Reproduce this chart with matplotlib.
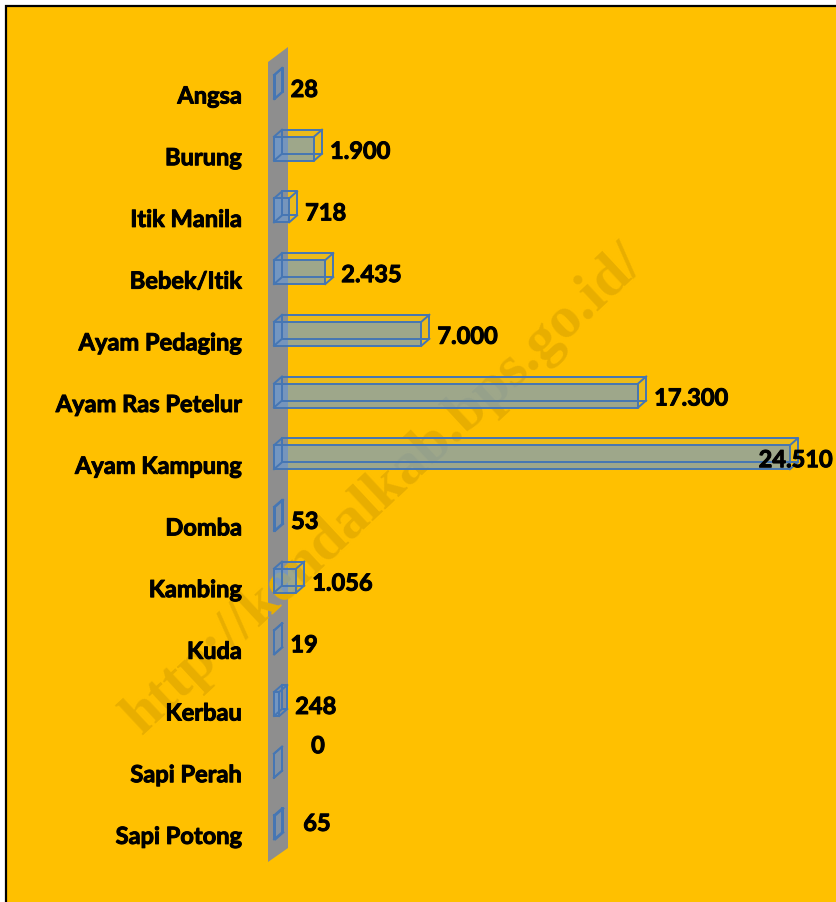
import matplotlib
matplotlib.use("Agg")
import matplotlib.pyplot as plt
from matplotlib.patches import Polygon, Rectangle
from matplotlib import font_manager
import matplotlib.patheffects as pe

# ---------------- data ----------------
categories = ["Angsa", "Burung", "Itik Manila", "Bebek/Itik", "Ayam Pedaging",
              "Ayam Ras Petelur", "Ayam Kampung", "Domba", "Kambing", "Kuda",
              "Kerbau", "Sapi Perah", "Sapi Potong"]
values = [28, 1900, 718, 2435, 7000, 17300, 24510, 53, 1056, 19, 248, 0, 65]
watermark = "http://kendalkab.bps.go.id/"

# ---------------- layout ----------------
W, H = 837, 903
DPI = 100
x0_px = 274          # pixel of value 0
px_per_unit = 0.02105
row0_px = 88         # center of first row (from top)
row_px = 61.7
bar_h_px = 24
depth_dx_px, depth_dy_px = 8, 7

def fam():
    names = {f.name for f in font_manager.fontManager.ttflist}
    for n in ["Lato", "Liberation Sans Narrow", "DejaVu Sans"]:
        if n in names:
            return n
    return "DejaVu Sans"
FONT = fam()
WEIGHT = "bold"
THICK = [pe.withStroke(linewidth=0.7, foreground="black")]

fig = plt.figure(figsize=(W / DPI, H / DPI), dpi=DPI)
fig.patch.set_facecolor("white")
fig.add_artist(Rectangle((6 / W, -0.05), 1.1, 1.05 - 7 / H, transform=fig.transFigure,
                         facecolor="#FFC000", edgecolor="black", linewidth=1.6, zorder=0))

ax = fig.add_axes([0, 0, 1, 1])
ax.set_facecolor("none")
ax.axis("off")
ax.set_xlim(-x0_px / px_per_unit, (W - x0_px) / px_per_unit)
ax.set_ylim((H - row0_px) / row_px, -row0_px / row_px)

def px2x(px):
    return (px - x0_px) / px_per_unit

def py2y(py):
    return (py - row0_px) / row_px

# gray wall
wall = Polygon([(px2x(268), py2y(63)), (px2x(288), py2y(48)),
                (px2x(288), py2y(849)), (px2x(268), py2y(863))],
               closed=True, facecolor="#8E8E8E", edgecolor="none", zorder=1)
ax.add_patch(wall)

# watermark
ax.text(px2x(384), py2y(490), watermark, rotation=43, ha="center", va="center",
        fontsize=43, fontweight="bold", family=["Liberation Serif", "DejaVu Serif"],
        color="#E8AE00", zorder=1.5)

dx = depth_dx_px / px_per_unit
dy = depth_dy_px / row_px
hh = bar_h_px / row_px / 2
edge = "#4576B4"
lw = 1.4
face = "#6A9AD6"

for i, v in enumerate(values):
    yt, yb = i - hh, i + hh
    # faces (translucent)
    top = Polygon([(0, yt), (v, yt), (v + dx, yt - dy), (dx, yt - dy)],
                  facecolor=face, alpha=0.12, edgecolor="none", zorder=2)
    left = Polygon([(0, yt), (0, yb), (dx, yb - dy), (dx, yt - dy)],
                   facecolor=face, alpha=0.2, edgecolor="none", zorder=2)
    right = Polygon([(v, yt), (v, yb), (v + dx, yb - dy), (v + dx, yt - dy)],
                    facecolor=face, alpha=0.12, edgecolor="none", zorder=2)
    front = Rectangle((0, yt), v, 2 * hh, facecolor=face, alpha=0.65,
                      edgecolor="none", zorder=2.2)
    for p in (top, left, right, front):
        ax.add_patch(p)
    # edges of box
    fx = [0, v, v, 0, 0]
    fy = [yt, yt, yb, yb, yt]
    ax.plot(fx, fy, color=edge, lw=lw, zorder=3)
    ax.plot([x + dx for x in fx], [y - dy for y in fy], color=edge, lw=lw, zorder=3)
    for cx, cy in [(0, yt), (v, yt), (v, yb), (0, yb)]:
        ax.plot([cx, cx + dx], [cy, cy - dy], color=edge, lw=lw, zorder=3)

    # category label
    ax.text(px2x(242), i + 9 / row_px, categories[i], ha="right", va="center",
            fontsize=17, fontweight=WEIGHT, family=FONT, color="black", zorder=4,
            path_effects=THICK)

    # value label
    lab = f"{v:,}".replace(",", ".")
    lx = v + dx + 8 / px_per_unit
    ly = i + 2.5 / row_px
    ha = "left"
    if categories[i] == "Sapi Perah":
        lx, ly, ha = px2x(318), i - 20 / row_px, "center"
    elif categories[i] == "Sapi Potong":
        lx, ly, ha = px2x(317), i - 4 / row_px, "center"
    elif lx > px2x(740):
        lx, ha = px2x(833), "right"
    ax.text(lx, ly, lab, ha=ha, va="center", fontsize=17, fontweight=WEIGHT,
            family=FONT, color="black", zorder=4, path_effects=THICK)

fig.savefig("out.png", dpi=DPI)
